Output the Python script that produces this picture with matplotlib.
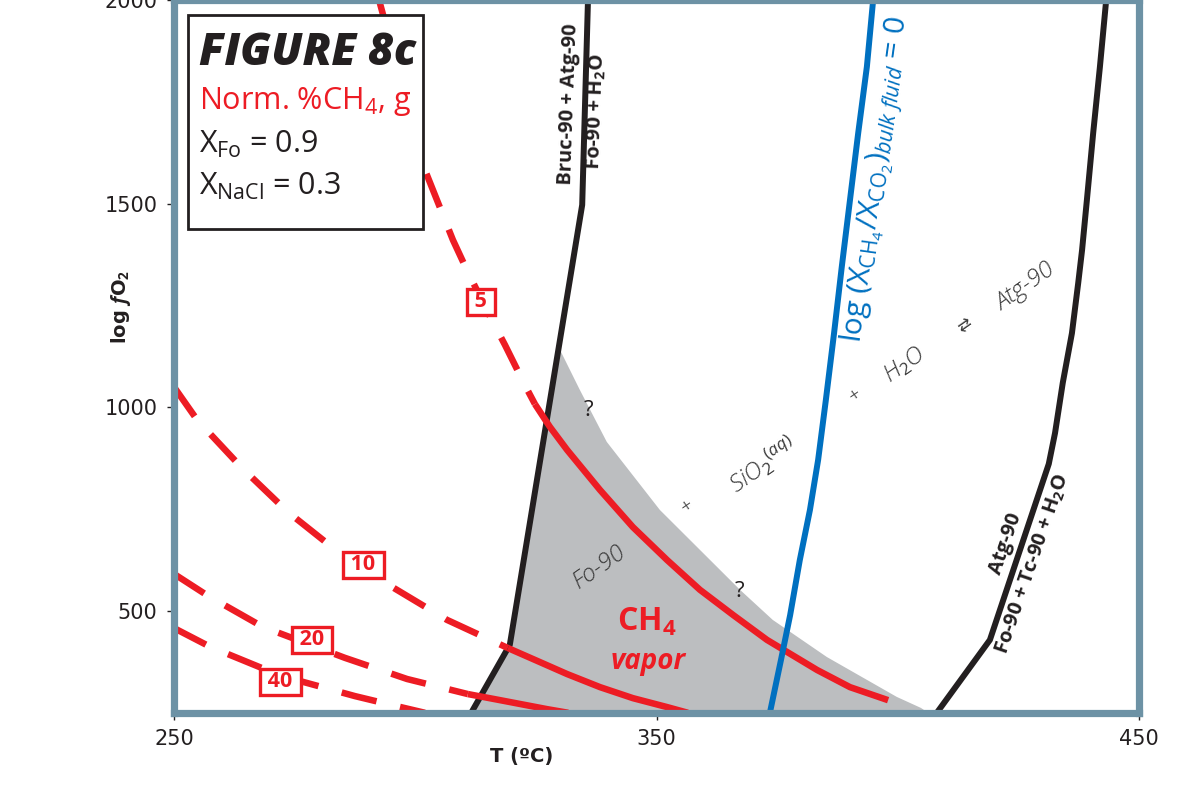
import matplotlib.pyplot as plt
from matplotlib.patches import Rectangle

plt.rcParams['font.family'] = ['DejaVu Sans']
plt.rcParams['mathtext.fontset'] = 'custom'
plt.rcParams['mathtext.rm'] = 'Open Sans'
plt.rcParams['mathtext.it'] = 'Open Sans:italic'
plt.rcParams['mathtext.bf'] = 'Open Sans:bold'
plt.rcParams['mathtext.bfit'] = 'Open Sans:italic:bold'

# Reaction boundaries (T in C vs y-axis value)
bruc_T = [335.8, 334.6, 319.6, 311.6]
bruc_y = [2000, 1497, 417, 250]
atg_T = [443.2, 441.9, 440.5, 439.2, 438.2, 437.4, 436.1, 434.2, 432.6, 431.3, 419.1, 408.1]
atg_y = [2000, 1836, 1673, 1509, 1386, 1305, 1182, 1060, 937, 861, 429, 250]
ratio_T = [394.9, 393.6, 391.8, 390.1, 388.4, 386.8, 385.1, 383.5, 381.8, 379.7, 377.7, 375.8, 373.5]
ratio_y = [2000, 1836, 1673, 1509, 1345, 1182, 1018, 871, 748, 625, 490, 380, 250]

# Normalised % CH4 vapor contours (dashed part, solid part)
c5_dash_T = [292.5, 302.0, 307.8, 310.7, 315.1, 318.6, 322.7, 324.8]
c5_dash_y = [2000, 1583, 1411, 1337, 1232, 1153, 1055, 1008]
c5_T = [324.8, 327.9, 331.5, 338.3, 345.1, 352.2, 359.0, 365.9, 372.9, 383.3, 390.1, 398.0]
c5_y = [1008, 952, 895, 797, 706, 625, 552, 490, 429, 355, 313, 281]

c10_dash_T = [250.0, 254.8, 264.1, 273.6, 284.0, 295.2, 306.6, 319.2]
c10_dash_y = [1050, 969, 851, 743, 645, 559, 478, 409]
c10_T = [319.2, 324.4, 331.5, 338.3, 345.1, 352.2, 356.5]
c10_y = [409, 382, 345, 313, 286, 264, 250]

c20_dash_T = [250.0, 256.8, 268.4, 285.4, 298.3, 310.9]
c20_dash_y = [591, 539, 461, 385, 333, 296]
c20_T = [310.9, 317.6, 327.3, 331.7]
c20_y = [296, 281, 259, 250]

c40_dash_T = [250.0, 257.5, 268.2, 276.1, 287.5, 295.2, 302.0]
c40_dash_y = [458, 412, 360, 328, 291, 269, 250]

# CH4 vapor field
field_T = [330.0, 334.1, 339.7, 350.7, 359.0, 367.3, 374.1, 385.3, 399.8, 404.8, 406.3, 311.6, 319.6]
field_y = [1141, 1043, 915, 748, 650, 552, 478, 387, 289, 262, 250, 250, 417]

red = '#ed1c24'
blue = '#0070c0'
black = '#231f20'
frame = '#6d92a5'

fig = plt.figure(figsize=(12.01, 8.01), dpi=100)
ax = fig.add_axes([174 / 1201, 88.2 / 801, 965 / 1201, 712.8 / 801])
ax.set_xlim(250, 450)
ax.set_ylim(250, 2000)

ax.fill(field_T, field_y, color='#bcbec0', lw=0, zorder=1)

dash = (0, (5.5, 3.7))
lw_red = 4.7
for T, y in [(c5_dash_T, c5_dash_y), (c10_dash_T, c10_dash_y),
             (c20_dash_T, c20_dash_y), (c40_dash_T, c40_dash_y)]:
    ax.plot(T, y, color=red, lw=lw_red, ls=dash, dash_capstyle='butt', zorder=4)
for T, y in [(c5_T, c5_y), (c10_T, c10_y), (c20_T, c20_y)]:
    ax.plot(T, y, color=red, lw=lw_red, solid_capstyle='butt', solid_joinstyle='round', zorder=4)

ax.plot(bruc_T, bruc_y, color=black, lw=4.3, zorder=3)
ax.plot(atg_T, atg_y, color=black, lw=4.3, solid_joinstyle='round', zorder=3)
ax.plot(ratio_T, ratio_y, color=blue, lw=4.3, solid_joinstyle='round', zorder=5)

# contour labels
for T, y, s in [(313.6, 1259, ' 5 '), (289.2, 613, ' 10 '), (278.6, 429, ' 20 '), (272.0, 326, ' 40 ')]:
    ax.text(T, y, s, ha='center', va='center', color=red, fontsize=15.5, fontweight='bold',
            family='Open Sans', zorder=7,
            bbox=dict(boxstyle='square,pad=0.12', fc='white', ec=red, lw=2.4))

# reaction labels
bold_lbl = dict(ha='center', va='center', fontsize=14.5, fontweight='bold',
                family='Open Sans', color=black, zorder=6)
ax.text(331.9, 1745, 'Bruc-90 + Atg-90', rotation=88, **bold_lbl)
ax.text(337.6, 1725, r'Fo-90 + H$_\mathbf{2}$O', rotation=88, **bold_lbl)
ax.text(422.5, 664, 'Atg-90', rotation=71, **bold_lbl)
ax.text(428.0, 615, r'Fo-90 + Tc-90 + H$_\mathbf{2}$O', rotation=71, **bold_lbl)
ax.text(395.7, 1560, r'log (X$_{\mathrm{CH_4}}$/X$_{\mathrm{CO_2}}$)$_{\mathit{bulk\ fluid}}$ = 0',
        rotation=82, ha='center', va='center', fontsize=21.5, family='Open Sans',
        color=blue, zorder=6)

rx = dict(rotation=35, ha='center', va='center', style='italic',
          fontweight='light', color='#3a3a3a', zorder=6)
ax.text(338.3, 608, 'Fo-90', family='Open Sans', fontsize=17.5, **rx)
ax.text(356.3, 755, '+', family='Open Sans', fontsize=15, **rx)
ax.text(372.1, 858, r'SiO$_{\mathit{2}}$$^{\mathit{(aq)}}$', family='Open Sans', fontsize=17.5, **rx)
ax.text(391.1, 1028, '+', family='Open Sans', fontsize=15, **rx)
ax.text(401.5, 1104, r'H$_{\mathit{2}}$O', family='Open Sans', fontsize=17.5, **rx)
ax.text(413.9, 1202, '\u21c4', family=['DejaVu Sans'], fontsize=12, **rx)
ax.text(426.4, 1295, 'Atg-90', family='Open Sans', fontsize=17.5, **rx)

ax.text(336.0, 993, '?', ha='center', va='center', fontsize=16, family='Open Sans', color=black, zorder=6)
ax.text(367.3, 547, '?', ha='center', va='center', fontsize=16, family='Open Sans', color=black, zorder=6)

ax.text(348.0, 473, r'CH$_\mathbf{4}$', ha='center', va='center', fontsize=23,
        fontweight='bold', family='Open Sans', color=red, zorder=6)
ax.text(348.2, 377, 'vapor', ha='center', va='center', fontsize=20, fontweight='bold',
        style='italic', family='Open Sans', color=red, zorder=6)

# title box
ax.add_patch(Rectangle((0.0145, 0.679), 0.2435, 0.30, transform=ax.transAxes,
                       fc='white', ec=black, lw=2, zorder=8))
ax.text(0.026, 0.909, 'FIGURE 8c', transform=ax.transAxes, va='baseline', fontsize=32,
        fontweight='heavy', style='italic', family='Open Sans', color=black, zorder=9)
ax.text(0.026, 0.847, r'Norm. %CH$_4$, g', transform=ax.transAxes, va='baseline', fontsize=22,
        family='Open Sans', color=red, zorder=9)
ax.text(0.026, 0.785, r'X$_{\mathrm{Fo}}$ = 0.9', transform=ax.transAxes, va='baseline', fontsize=22,
        family='Open Sans', color=black, zorder=9)
ax.text(0.026, 0.726, r'X$_{\mathrm{NaCl}}$ = 0.3', transform=ax.transAxes, va='baseline', fontsize=22,
        family='Open Sans', color=black, zorder=9)

ax.set_xticks([250, 350, 450])
ax.set_yticks([500, 1000, 1500, 2000])
ax.tick_params(direction='out', length=5, width=1, color=black, labelcolor=black,
               labelsize=15, pad=7)
for sp in ax.spines.values():
    sp.set_color(frame)
    sp.set_linewidth(5.2)
    sp.set_zorder(10)

ax.text(0.36, -0.062, 'T (ºC)', transform=ax.transAxes, ha='center', va='center',
        fontsize=14, fontweight='bold', color=black)
ax.text(-0.055, 0.569, r'log $\mathbfit{f}$O$_\mathbf{2}$', transform=ax.transAxes,
        ha='center', va='center', rotation=90, fontsize=14, fontweight='bold', color=black)

fig.savefig('out.png', dpi=100)
